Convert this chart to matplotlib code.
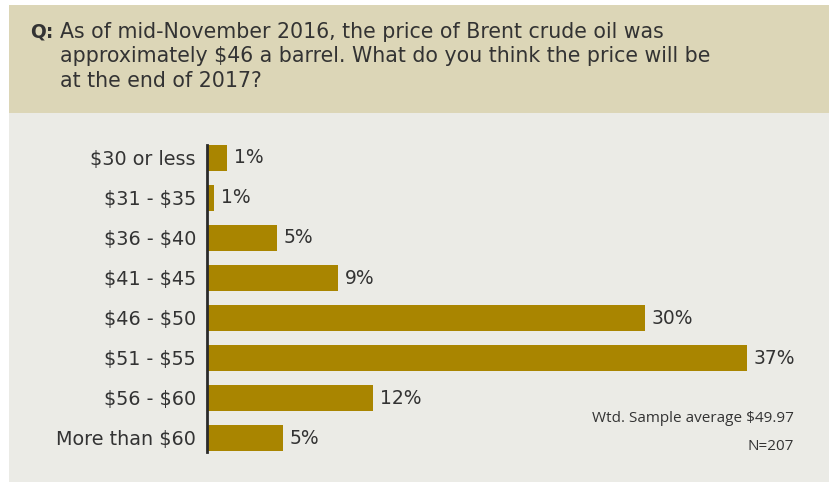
import matplotlib
matplotlib.use("Agg")
import matplotlib.pyplot as plt
from matplotlib.patches import Rectangle

categories = ["$30 or less", "$31 - $35", "$36 - $40", "$41 - $45",
              "$46 - $50", "$51 - $55", "$56 - $60", "More than $60"]
values = [1.4, 0.5, 4.8, 9.0, 30.0, 37.0, 11.4, 5.2]
value_labels = ["1%", "1%", "5%", "9%", "30%", "37%", "12%", "5%"]
title_q = "Q:"
title_lines = ["As of mid-November 2016, the price of Brent crude oil was",
               "approximately $46 a barrel. What do you think the price will be",
               "at the end of 2017?"]
note1 = "Wtd. Sample average $49.97"
note2 = "N=207"

W, H = 830, 483
plt.rcParams['text.parse_math'] = False
plt.rcParams['font.family'] = ['DejaVu Sans']
fig = plt.figure(figsize=(W / 100, H / 100), dpi=100, facecolor="white")

def fx(px):
    return px / W

def fy(py):
    return 1 - py / H

header_c = "#dcd6b7"
bg_c = "#ebebe6"
bar_c = "#a98500"
text_c = "#333333"
main_font = "DejaVu Sans"
note_font = "Open Sans"

fig.patches.append(Rectangle((fx(9), fy(113)), fx(829) - fx(9), fy(5) - fy(113),
                             transform=fig.transFigure, facecolor=header_c, edgecolor="none", zorder=-2))
fig.patches.append(Rectangle((fx(9), fy(482)), fx(829) - fx(9), fy(113) - fy(482),
                             transform=fig.transFigure, facecolor=bg_c, edgecolor="none", zorder=-2))

fig.text(fx(30), fy(32), title_q, fontsize=13.5, fontweight="bold", color=text_c,
         va="center", ha="left", family=main_font)
for i, line in enumerate(title_lines):
    fig.text(fx(60), fy(32 + 24.5 * i), line, fontsize=14.8, color=text_c,
             va="center", ha="left", family=main_font)

ax_left, ax_top, ax_bottom = 207, 145, 452
px_per_unit = 14.6
xmax = 40
ax = fig.add_axes([fx(ax_left), fy(ax_bottom), (xmax * px_per_unit) / W, (ax_bottom - ax_top) / H])
ax.set_zorder(2)
ax.set_facecolor("none")
y = list(range(len(categories)))
ax.barh(y, values, height=0.65, color=bar_c, zorder=2)
ax.set_xlim(0, xmax)
ax.set_ylim(7.35, -0.325)
for yi, v, lab in zip(y, values, value_labels):
    ax.text(v + 0.45, yi, lab, va="center", ha="left", fontsize=13.5, color=text_c, family=main_font)
ax.set_yticks(y)
ax.set_yticklabels(categories, fontsize=13.8, color=text_c, family=main_font)
ax.tick_params(axis="y", length=0, pad=8)
ax.set_xticks([])
for s in ["top", "right", "bottom"]:
    ax.spines[s].set_visible(False)
ax.spines["left"].set_color("#2a2a2a")
ax.spines["left"].set_linewidth(2)

fig.text(fx(794), fy(418), note1, fontsize=11, color=text_c, ha="right", va="center", family=note_font)
fig.text(fx(794), fy(447), note2, fontsize=11, color=text_c, ha="right", va="center", family=note_font)

fig.savefig("out.png", dpi=100, facecolor="white")
